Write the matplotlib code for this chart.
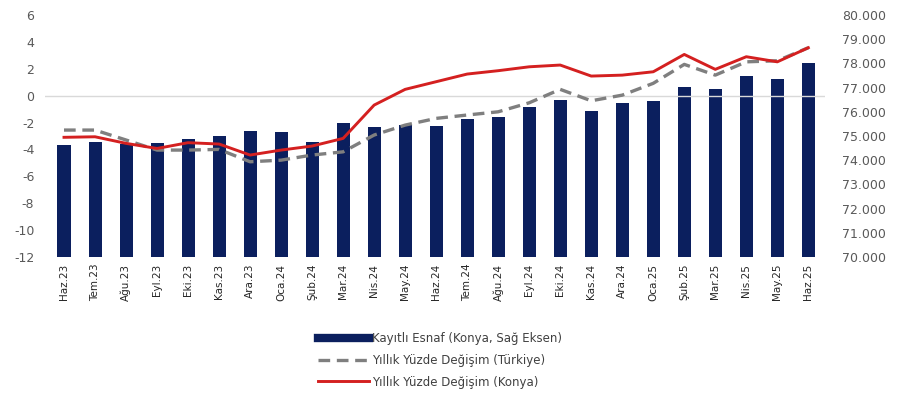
import matplotlib
matplotlib.use("Agg")
import matplotlib.pyplot as plt
from matplotlib.lines import Line2D

months = ["Haz.23", "Tem.23", "Ağu.23", "Eyl.23", "Eki.23", "Kas.23", "Ara.23",
          "Oca.24", "Şub.24", "Mar.24", "Nis.24", "May.24", "Haz.24", "Tem.24",
          "Ağu.24", "Eyl.24", "Eki.24", "Kas.24", "Ara.24", "Oca.25", "Şub.25",
          "Mar.25", "Nis.25", "May.25", "Haz.25"]

esnaf_konya = [74635, 74735, 74680, 74705, 74885, 74980, 75215, 75145, 74770,
               75520, 75370, 75465, 75395, 75715, 75770, 76185, 76500, 76045,
               76365, 76430, 77010, 76955, 77500, 77375, 78025]

yillik_turkiye = [-2.56, -2.56, -3.3, -4.05, -4.05, -4.0, -4.92, -4.8, -4.42,
                  -4.18, -2.93, -2.19, -1.69, -1.44, -1.2, -0.53, 0.47, -0.38,
                  0.04, 0.92, 2.33, 1.53, 2.52, 2.6, 3.57]

yillik_konya = [-3.1, -3.06, -3.55, -3.93, -3.5, -3.6, -4.42, -4.05, -3.75,
                -3.18, -0.7, 0.47, 1.04, 1.61, 1.86, 2.15, 2.28, 1.46, 1.53,
                1.78, 3.07, 1.96, 2.9, 2.52, 3.57]

left_ticks = [6, 4, 2, 0, -2, -4, -6, -8, -10, -12]
right_ticks = [80000, 79000, 78000, 77000, 76000, 75000, 74000, 73000, 72000, 71000, 70000]

labels = ["Kayıtlı Esnaf (Konya, Sağ Eksen)",
          "Yıllık Yüzde Değişim (Türkiye)",
          "Yıllık Yüzde Değişim (Konya)"]

navy = "#0B1F5E"
red = "#D42020"
gray = "#7F7F7F"
txt = "#595959"

fig = plt.figure(figsize=(9.08, 3.97), dpi=100)
ax = fig.add_axes([0.05, 0.353, 0.859, 0.609])
ax2 = ax.twinx()

x = list(range(len(months)))
ax2.bar(x, esnaf_konya, width=0.42, color=navy, zorder=2)
ax2.set_ylim(70000, 80000)
ax2.set_yticks(right_ticks)
ax2.set_yticklabels([f"{v:,}".replace(",", ".") for v in right_ticks],
                    fontsize=9, color=txt)

ax.plot(x, yillik_turkiye, color=gray, lw=2.4, ls=(0, (3.5, 2)), zorder=3)
ax.plot(x, yillik_konya, color=red, lw=2.1, zorder=4)
ax.axhline(0, color="#D9D9D9", lw=1.0, zorder=1)
ax.set_ylim(-12, 6)
ax.set_yticks(left_ticks)
ax.set_yticklabels([str(v) for v in left_ticks], fontsize=9, color=txt)
ax.set_xlim(-0.6, 24.55)
ax.set_xticks(x)
ax.set_xticklabels(months, rotation=90, fontsize=7.5, color="#262626")

ax.set_zorder(ax2.get_zorder() + 1)
ax.patch.set_visible(False)

for a in (ax, ax2):
    for s in a.spines.values():
        s.set_visible(False)
    a.tick_params(length=0)
ax.tick_params(axis="y", pad=8)
ax.tick_params(axis="x", pad=5)
ax2.tick_params(axis="y", pad=12)

handles = [Line2D([], [], color=navy, lw=6),
           Line2D([], [], color=gray, lw=2.4, ls=(0, (3.5, 2))),
           Line2D([], [], color=red, lw=2.1)]
fig.legend(handles, labels, loc="upper left", bbox_to_anchor=(0.345, 0.176),
           frameon=False, fontsize=8.5, handlelength=4.3, handletextpad=0.3,
           labelspacing=0.75, borderaxespad=0, labelcolor="#404040")

fig.savefig("out.png", dpi=100)
